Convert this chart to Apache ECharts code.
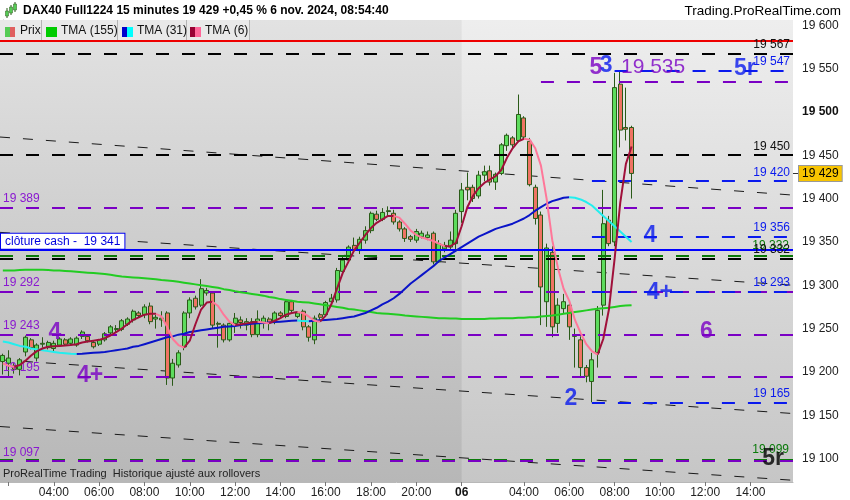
<!DOCTYPE html>
<html><head><meta charset="utf-8">
<script src="https://cdn.jsdelivr.net/npm/echarts@6/dist/echarts.min.js"></script>
<style>html,body{margin:0;padding:0;background:#fff}#c{width:850px;height:500px}</style>
</head><body><div id="c"></div>
<script>
// ---------- DATA ----------
const sessions = [
  {day:'05', first:'01:45', last:'21:45'},
  {day:'06', first:'01:15', last:'15:45'}
];
const xTickTimes05 = ['02:00','04:00','06:00','08:00','10:00','12:00','14:00','16:00','18:00','20:00'];
const xTickNoLabel05 = ['02:00'];
const xTickTimes06 = ['04:00','06:00','08:00','10:00','12:00','14:00'];
const dayLabel = '06';
const yTicks = [19100,19150,19200,19250,19300,19350,19400,19450,19500,19550,19600];

const open = [19212,19210,19207,19203,19223,19237,19216,19232,19228,19227,19231,19237,19233,19231,19241,19241,19234,19232,19237,19245,
19249,19249,19255,19260,19268,19266,19276,19261,19260,19268,19193,19208,19229,19268,19285,19277,19291,19291,19256,19254,
19237,19256,19260,19254,19258,19243,19257,19261,19258,19268,19264,19281,19264,19270,19252,19237,19266,19266,19281,19283,
19316,19329,19346,19340,19352,19363,19382,19376,19385,19383,19373,19365,19356,19352,19356,19355,19360,19327,19342,19344,
19348,19385,19413,19413,19403,19427,19432,19419,19429,19461,19470,19467,19493,19466,19413,19381,19281,19338,19256,19273,
19277,19241,19237,19205,19189,19222,19277,19375,19350,19532,19482,19482];
const close = [19219,19216,19203,19214,19240,19228,19231,19233,19234,19233,19238,19232,19238,19239,19246,19236,19229,19237,19244,19252,
19250,19259,19261,19270,19265,19275,19258,19263,19262,19193,19210,19222,19268,19283,19275,19296,19294,19254,19255,19237,
19256,19262,19257,19258,19243,19261,19262,19257,19268,19265,19281,19271,19268,19252,19240,19262,19263,19280,19285,19317,
19329,19344,19341,19353,19363,19383,19376,19384,19386,19373,19365,19354,19353,19362,19360,19358,19327,19348,19346,19352,
19383,19410,19410,19400,19427,19431,19419,19428,19462,19473,19462,19497,19471,19416,19377,19298,19343,19252,19277,19281,
19252,19243,19205,19195,19214,19271,19371,19348,19528,19479,19480,19429];
const low = [19197,19195,19198,19196,19218,19226,19212,19228,19226,19224,19229,19230,19231,19229,19238,19234,19227,19230,19235,19243,
19246,19247,19253,19257,19263,19262,19255,19250,19252,19185,19184,19205,19225,19262,19272,19275,19288,19250,19228,19234,
19235,19245,19250,19248,19240,19240,19250,19248,19255,19262,19262,19268,19262,19248,19235,19232,19260,19264,19278,19280,
19312,19326,19338,19336,19348,19360,19374,19374,19380,19370,19362,19350,19350,19349,19354,19352,19324,19326,19338,19340,
19340,19372,19398,19396,19400,19420,19415,19410,19427,19455,19458,19465,19468,19414,19370,19254,19252,19240,19245,19268,
19237,19205,19195,19188,19165,19205,19265,19345,19345,19459,19467,19400];
const high = [19221,19225,19210,19216,19242,19239,19233,19240,19236,19236,19240,19239,19240,19241,19248,19243,19236,19238,19246,19254,
19254,19261,19263,19272,19270,19278,19280,19268,19270,19270,19215,19225,19270,19286,19288,19307,19297,19293,19258,19256,
19258,19268,19264,19262,19262,19271,19265,19263,19270,19270,19283,19283,19270,19272,19254,19265,19268,19282,19290,19320,
19333,19346,19355,19356,19368,19385,19386,19389,19391,19387,19375,19367,19358,19365,19363,19362,19362,19352,19350,19362,
19387,19418,19430,19416,19432,19438,19438,19430,19464,19475,19472,19520,19495,19470,19416,19385,19348,19345,19285,19290,
19280,19250,19241,19208,19222,19276,19410,19380,19545,19546,19528,19484];

const tma155 = [19317,19317,19317,19317.5,19318,19318,19318,19318,19317.5,19317,19317,19316.5,19316,19315.5,19315,19314.5,19314,19313.5,19313,19312,
19311,19310,19309.5,19309,19308.5,19308,19307.5,19307,19306,19305.5,19305,19304,19303,19302,19301,19300,19299,19298,19297,19295.5,
19294.5,19293,19292,19291,19290,19289,19288,19286.5,19285.5,19284,19283,19282,19281,19280.5,19280,19279,19278,19277,19276,19275,
19274,19272.5,19272,19271,19270,19269,19268,19267.5,19267,19266.5,19266,19265,19264.5,19264,19263.5,19263,19262.5,19262,19262,19261.5,
19261.5,19261,19261,19261,19261,19261,19261.5,19261.5,19262,19262,19262,19262.5,19262.5,19263,19263,19264,19264.5,19265,19266,19267,
19268,19269,19270,19271,19272,19273,19273.5,19274,19275,19276,19276.5,19277];
const tma31 = [19235,19234,19232,19230,19229,19227,19226,19225,19224,19223,19222,19221.5,19221,19220.8,19221,19221.5,19222,19222.5,19223,19224,
19225,19226,19227,19229,19230,19232,19234,19236,19238,19240,19241,19243,19244,19246,19247,19248,19249,19250,19251,19252,
19252.5,19253,19254,19255,19255.5,19256,19256.5,19257,19257.5,19258,19258.5,19259,19259.2,19258.6,19258.4,19259,19259.5,19260,19260.5,19261,
19262,19263,19264,19266,19268,19271,19274,19278,19281,19285,19290,19296,19302,19307,19312,19317,19322,19328,19332,19336,
19340,19344,19348,19352,19356,19359,19362,19365,19367,19369,19371,19374,19377,19381,19386,19390,19394,19397,19399,19401,
19401.5,19401,19399,19396,19392,19386,19380,19374,19368,19362,19356,19350];
const tma6 = [19210,19207,19206,19208,19213,19219,19224,19227,19229,19229.5,19230,19230.5,19231,19232,19234,19235,19236,19237,19239,19242,
19246,19250,19255,19260,19263,19266,19267,19267,19264,19252,19238,19231,19228,19236,19255,19272,19280,19281,19276,19266,
19258,19254,19255,19256,19257,19258,19257,19256,19259,19262,19266,19268,19269,19268,19264,19259,19258,19265,19278,19296,
19314,19327,19340,19349,19358,19366,19372,19376,19380,19380,19378,19371,19363,19358,19355,19353,19351,19348,19345,19345,
19349,19368,19390,19403,19412,19418,19422,19426,19433,19447,19458,19466,19469,19468,19458,19438,19400,19352,19320,19296,
19282,19260,19245,19232,19224,19220,19238,19272,19330,19395,19440,19460];

const redLevels = [19582];
const blackLevels = [19567, 19450, 19331];
const blackLevelLabels = ['19 567', '19 450', '19 332'];
const greenLevels = [19334, 19099];
const greenLevelLabels = ['19 332', '19 099'];
const purpleLevels = [19389, 19292, 19243, 19195, 19097];
const purpleLateLevels = [19535];
const purpleLateStartIdx = [95];
const blueLateLevels = [19547, 19420, 19356, 19293, 19165];
const blueLateStartIdx = [108, 104, 104, 104, 104];
const cashClose = 19341;
const cashCloseLabel = 'clôture cash -  19 341';
const lastPrice = 19429;

const trendStart = [19471, 19361, 19214, 19137];
const trendEnd   = [19404, 19300, 19152, 19075];

const annoText  = ['4', '4+', '6', '2', '4', '4+', '5r', '5', '3', '19 535', '5r'];
const annoIdx   = [9.2, 15.4, 124.2, 100.3, 114.3, 116, 131, 104.7, 106.5, 114.8, 136];
const annoPrice = [19245, 19196, 19246, 19169, 19357, 19292, 19550, 19551, 19553, 19551, 19100];
const annoKind  = ['p','p','p','b','b','b','b','p','b','pn','k'];

const titleText = 'DAX40 Full1224 15 minutes 19 429 +0,45 % 6 nov. 2024, 08:54:40';
const siteText = 'Trading.ProRealTime.com';
const footText = 'ProRealTime Trading  Historique ajusté aux rollovers';
const legendNames = ['Prix', 'TMA (155)', 'TMA (31)', 'TMA (6)'];

// ---------- BUILD ----------
const FONT = '"Liberation Sans", Arial, sans-serif';
const yMin = 19073, yMax = 19606;
const categories = [], dayOfBar = [];
sessions.forEach(s => {
  const [h0,m0] = s.first.split(':').map(Number), [h1,m1] = s.last.split(':').map(Number);
  for (let t = h0*60+m0; t <= h1*60+m1; t += 15) {
    categories.push(String(Math.floor(t/60)).padStart(2,'0') + ':' + String(t%60).padStart(2,'0'));
    dayOfBar.push(s.day);
  }
});
const N = categories.length;
const X0 = -0.5, X1 = N - 0.5;
let dayStart = -1;
const tickIdx = new Set(), labelIdx = new Set();
categories.forEach((c, i) => {
  const d = dayOfBar[i];
  if (i > 0 && d !== dayOfBar[i-1]) { tickIdx.add(i); labelIdx.add(i); dayStart = i; return; }
  const list = d === '05' ? xTickTimes05 : xTickTimes06;
  if (list.includes(c)) {
    tickIdx.add(i);
    if (!(d === '05' && xTickNoLabel05.includes(c))) labelIdx.add(i);
  }
});
const fmt = v => String(v).replace(/\B(?=(\d{3})+(?!\d))/g, ' ');
const ohlc = open.map((o, i) => [o, close[i], low[i], high[i]]);

function splitTrend(vals) {
  const up = new Array(vals.length).fill(null), dn = new Array(vals.length).fill(null);
  for (let i = 0; i < vals.length - 1; i++) {
    const t = vals[i+1] >= vals[i] ? up : dn;
    t[i] = vals[i]; t[i+1] = vals[i+1];
  }
  return [up, dn];
}
const [t31up, t31dn] = splitTrend(tma31);
const [t6up, t6dn] = splitTrend(tma6);

const C = {purple:'#7a00c4', purpleTxt:'#8a18d0', blue:'#0a1aee', black:'#000', green:'#0a7a0a', red:'#ee0000'};
const DASH = [13, 13];
function seg(v, x0, color, type, width, label) {
  return [{coord:[x0, v], lineStyle:{color, type, width}, label: label || {show:false}}, {coord:[X1, v]}];
}
const rightLab = (text, color, dy) => ({show:true, position:'insideEndTop', formatter:text, color, fontSize:12, fontFamily:FONT, distance: dy == null ? 3 : dy});
const leftLab = (text, color) => ({show:true, position:'insideStartTop', formatter:text, color, fontSize:12, fontFamily:FONT, distance:3});

const lvl = [];
redLevels.forEach(v => lvl.push(seg(v, X0, C.red, 'solid', 2)));
greenLevels.forEach((v, i) => lvl.push(seg(v, X0, C.green, DASH, 2, rightLab(greenLevelLabels[i], C.green, 4))));
blackLevels.forEach((v, i) => lvl.push(seg(v, X0, C.black, DASH, 2, rightLab(blackLevelLabels[i], '#111', 3))));
purpleLevels.forEach(v => lvl.push(seg(v, X0, C.purple, DASH, 2, leftLab(fmt(v), C.purpleTxt))));
purpleLateLevels.forEach((v, i) => lvl.push(seg(v, purpleLateStartIdx[i], C.purple, DASH, 2)));
blueLateLevels.forEach((v, i) => lvl.push(seg(v, blueLateStartIdx[i], C.blue, DASH, 2, rightLab(fmt(v), C.blue, 3))));
lvl.push(seg(cashClose, X0, '#0000ff', 'solid', 2, {show:true, position:'insideStartTop', formatter:cashCloseLabel,
  color:'#0000dd', fontSize:12, fontFamily:FONT, backgroundColor:'#fff', borderColor:'#0000ee', borderWidth:1,
  padding:[2,4,1,4], distance:1}));

const trendSeries = trendStart.map((s, i) => ({
  type:'line', xAxisIndex:1, yAxisIndex:0, data:[[X0, s], [X1, trendEnd[i]]], symbol:'none', silent:true, z:2,
  lineStyle:{color:'#1a1a1a', width:1, type:[10,13]}
}));

const annoStyles = {
  p:{color:C.purple, fontSize:23, fontWeight:'bold'},
  b:{color:C.blue, fontSize:23, fontWeight:'bold'},
  k:{color:'#000', fontSize:23, fontWeight:'bold'},
  pn:{color:C.purple, fontSize:21, fontWeight:'normal'}
};
const annoData = annoText.map((t, i) => ({name:t, value:[annoIdx[i], annoPrice[i]],
  label:Object.assign({show:true, position:'inside', formatter:'{b}', fontFamily:FONT}, annoStyles[annoKind[i]])}));

const lineCommon = {type:'line', xAxisIndex:0, yAxisIndex:0, symbol:'none', showSymbol:false, connectNulls:false, silent:true, z:6};

const legendIconsY = 27;
const graphic = [
  {type:'rect', shape:{x:0, y:20, width:250, height:20}, style:{fill:'#e9e9e9'}, z:100},
  ...[41,117,186,249].map(x => ({type:'line', shape:{x1:x+0.5, y1:20, x2:x+0.5, y2:40}, style:{stroke:'#b4b4b4', lineWidth:1}, z:101})),
  {type:'rect', shape:{x:5, y:legendIconsY, width:5, height:10}, style:{fill:'#55cc55'}, z:101},
  {type:'rect', shape:{x:10, y:legendIconsY, width:5, height:10}, style:{fill:'#e06060'}, z:101},
  {type:'rect', shape:{x:46, y:legendIconsY, width:11, height:10}, style:{fill:'#00cc00'}, z:101},
  {type:'rect', shape:{x:122, y:legendIconsY, width:5, height:10}, style:{fill:'#0000cc'}, z:101},
  {type:'rect', shape:{x:127, y:legendIconsY, width:6, height:10}, style:{fill:'#00ffff'}, z:101},
  {type:'rect', shape:{x:190, y:legendIconsY, width:5, height:10}, style:{fill:'#990033'}, z:101},
  {type:'rect', shape:{x:195, y:legendIconsY, width:6, height:10}, style:{fill:'#ff6699'}, z:101},
  {type:'text', x:20, y:25, style:{text:legendNames[0], font:'12px '+FONT, fill:'#111'}, z:101},
  {type:'text', x:61, y:25, style:{text:legendNames[1], font:'12px '+FONT, fill:'#111'}, z:101},
  {type:'text', x:137, y:25, style:{text:legendNames[2], font:'12px '+FONT, fill:'#111'}, z:101},
  {type:'text', x:205, y:25, style:{text:legendNames[3], font:'12px '+FONT, fill:'#111'}, z:101},
  {type:'text', x:23, y:5, style:{text:titleText, font:'bold 12px '+FONT, fill:'#000'}, z:101},
  {type:'text', x:841, y:4, style:{text:siteText, font:'13.5px '+FONT, fill:'#000', align:'right'}, z:101},
  {type:'text', x:3, y:468, style:{text:footText, font:'11px '+FONT, fill:'#222'}, z:101},
  {type:'line', shape:{x1:7, y1:8, x2:7, y2:18}, style:{stroke:'#2a5a18', lineWidth:1}, z:101},
  {type:'rect', shape:{x:5.5, y:11, width:3, height:5}, style:{fill:'#55cc55', stroke:'#2a5a18', lineWidth:0.5}, z:102},
  {type:'line', shape:{x1:11, y1:5, x2:11, y2:15}, style:{stroke:'#2a5a18', lineWidth:1}, z:101},
  {type:'rect', shape:{x:9.5, y:7, width:3, height:6}, style:{fill:'#55cc55', stroke:'#2a5a18', lineWidth:0.5}, z:102},
  {type:'line', shape:{x1:15, y1:2, x2:15, y2:12}, style:{stroke:'#2a5a18', lineWidth:1}, z:101},
  {type:'rect', shape:{x:13.5, y:4, width:3, height:6}, style:{fill:'#55cc55', stroke:'#2a5a18', lineWidth:0.5}, z:102}
];

const option = {
  animation:false,
  backgroundColor:'#fff',
  textStyle:{fontFamily:FONT},
  grid:{left:0, right:57, top:20, bottom:18, show:true, borderWidth:0,
    backgroundColor:{type:'linear', x:0, y:0, x2:0, y2:1, colorStops:[{offset:0, color:'#eeeeee'}, {offset:1, color:'#c6c6c6'}]}},
  xAxis:[
    {type:'category', data:categories, boundaryGap:true,
     axisLine:{show:true, lineStyle:{color:'#b8b8b8'}},
     axisTick:{show:true, interval:(i) => tickIdx.has(i), alignWithLabel:true, length:4, lineStyle:{color:'#777'}},
     axisLabel:{interval:(i) => labelIdx.has(i), formatter:(v, i) => i === dayStart ? '{b|' + dayLabel + '}' : v,
       color:'#222', fontSize:12, margin:5, rich:{b:{fontWeight:'bold', fontSize:12, color:'#111'}}},
     splitLine:{show:false}},
    {type:'value', min:X0, max:X1, show:false}
  ],
  yAxis:[
    {type:'value', position:'right', min:yMin, max:yMax,
     axisLine:{show:true, lineStyle:{color:'#aaaaaa'}},
     axisTick:{show:true, customValues:yTicks, length:5, lineStyle:{color:'#888'}},
     axisLabel:{customValues:yTicks, formatter:v => v === 19500 ? '{b|' + fmt(v) + '}' : fmt(v), color:'#222', fontSize:12, margin:9,
       rich:{b:{fontWeight:'bold', fontSize:12, color:'#111'}}},
     splitLine:{show:false}},
    {type:'value', position:'right', min:yMin, max:yMax,
     axisLine:{show:false},
     axisTick:{show:true, customValues:[lastPrice], length:5, lineStyle:{color:'#333'}},
     axisLabel:{customValues:[lastPrice], formatter:v => fmt(v), color:'#000', fontSize:12, margin:6,
       backgroundColor:'#f8c400', borderColor:'#999', borderWidth:1, padding:[2,3,1,3]},
     splitLine:{show:false}}
  ],
  series:[
    {type:'line', xAxisIndex:1, yAxisIndex:0, data:[], silent:true, z:1,
     markArea:{silent:true, itemStyle:{color:{type:'linear', x:0, y:0, x2:0, y2:1,
       colorStops:[{offset:0, color:'#e2e2e2'}, {offset:1, color:'#b7b7b7'}]}},
       data:[[{coord:[X0, yMax]}, {coord:[dayStart, yMin]}]]}},
    ...trendSeries,
    {type:'candlestick', xAxisIndex:0, yAxisIndex:0, data:ohlc, barWidth:4.5, silent:true, z:3,
     itemStyle:{color:'#5ddc5d', color0:'#ef7464', borderColor:'#2a5a18', borderColor0:'#2a5a18', borderWidth:1}},
    {type:'line', xAxisIndex:1, yAxisIndex:0, data:[], silent:true, clip:false, z:4,
     markLine:{symbol:['none','none'], silent:true, animation:false, data:lvl}},
    Object.assign({}, lineCommon, {name:'TMA (155)', data:tma155, lineStyle:{color:'#22cc22', width:2}}),
    Object.assign({}, lineCommon, {name:'TMA (31) up', data:t31up, lineStyle:{color:'#0a14c8', width:2}}),
    Object.assign({}, lineCommon, {name:'TMA (31) down', data:t31dn, lineStyle:{color:'#22eeee', width:2}}),
    Object.assign({}, lineCommon, {name:'TMA (6) up', data:t6up, lineStyle:{color:'#a0103a', width:2}}),
    Object.assign({}, lineCommon, {name:'TMA (6) down', data:t6dn, lineStyle:{color:'#ff7799', width:2}}),
    {type:'scatter', xAxisIndex:1, yAxisIndex:0, data:annoData, symbolSize:1, itemStyle:{color:'rgba(0,0,0,0)'}, silent:true, z:7}
  ],
  graphic
};
const chart = echarts.init(document.getElementById('c'));
chart.setOption(option);
</script>
</body></html>
